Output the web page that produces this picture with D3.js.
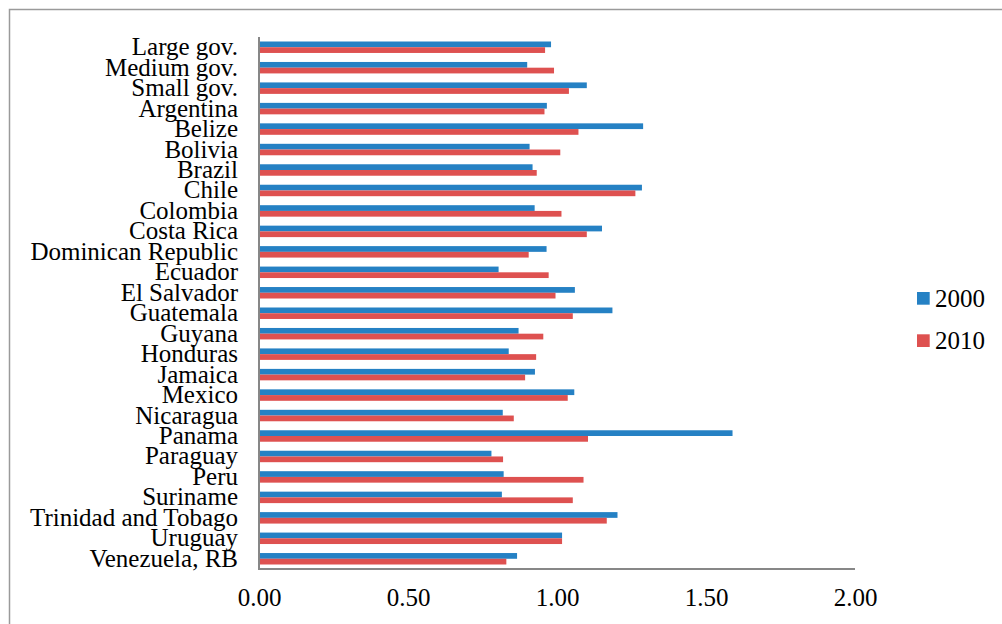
<!DOCTYPE html>
<html>
<head>
<meta charset="utf-8">
<script src="https://cdn.jsdelivr.net/npm/d3@7"></script>
<style>
  html, body { margin: 0; padding: 0; background: #fff; }
  svg { display: block; }
  svg text { font-family: "Liberation Serif", "Times New Roman", serif !important; fill: #000; }
</style>
</head>
<body>
<svg id="chart" width="1002" height="624"></svg>
<script>
const categories = ["Large gov.", "Medium gov.", "Small gov.", "Argentina", "Belize", "Bolivia", "Brazil", "Chile", "Colombia", "Costa Rica", "Dominican Republic", "Ecuador", "El Salvador", "Guatemala", "Guyana", "Honduras", "Jamaica", "Mexico", "Nicaragua", "Panama", "Paraguay", "Peru", "Suriname", "Trinidad and Tobago", "Uruguay", "Venezuela, RB"];
const seriesNames = ["2000", "2010"];
const values2000 = [0.98, 0.90, 1.10, 0.966, 1.289, 0.908, 0.918, 1.285, 0.925, 1.151, 0.965, 0.804, 1.06, 1.186, 0.871, 0.838, 0.926, 1.058, 0.818, 1.589, 0.78, 0.821, 0.815, 1.203, 1.017, 0.866];
const values2010 = [0.96, 0.99, 1.04, 0.958, 1.072, 1.011, 0.932, 1.263, 1.015, 1.10, 0.905, 0.972, 0.995, 1.053, 0.954, 0.93, 0.893, 1.036, 0.855, 1.104, 0.819, 1.089, 1.053, 1.167, 1.017, 0.83];
const xTicks = [0, 0.5, 1.0, 1.5, 2.0];
const colors = ["#2581C4", "#DE5150"];

const svg = d3.select("#chart");

// outer frame
svg.append("rect").attr("x", 9.5).attr("y", 9.5).attr("width", 1010).attr("height", 640)
  .attr("fill", "none").attr("stroke", "#9a9a9a").attr("stroke-width", 1.5);

const x = d3.scaleLinear().domain([0, 2]).range([259, 855]);
const y = d3.scaleBand().domain(categories).range([37, 569]).paddingInner(0.44).paddingOuter(0.22);
const ys = d3.scaleBand().domain(seriesNames).range([0, y.bandwidth()]);

const data = categories.map((c, i) => ({cat: c, vals: [values2000[i], values2010[i]]}));

const g = svg.append("g");
const groups = g.selectAll("g.cat").data(data).join("g")
  .attr("transform", d => `translate(0,${y(d.cat)})`);
groups.selectAll("rect").data(d => d.vals.map((v, k) => ({v, k}))).join("rect")
  .attr("x", x(0))
  .attr("y", d => ys(seriesNames[d.k]))
  .attr("width", d => x(d.v) - x(0))
  .attr("height", ys.bandwidth())
  .attr("fill", d => colors[d.k]);

// y axis
const yAxis = d3.axisLeft(y).tickSize(0).tickPadding(21);
const yg = svg.append("g").attr("transform", `translate(${x(0)},0)`).call(yAxis);
yg.attr("font-family", null).attr("font-size", null);
yg.select(".domain").remove();
yg.selectAll("text").style("font-size", "25px").attr("dy", "0.32em");
svg.append("line").attr("x1", x(0)).attr("x2", x(0)).attr("y1", 37).attr("y2", 570)
  .attr("stroke", "#878787").attr("stroke-width", 2);

// x axis
const xAxis = d3.axisBottom(x).tickValues(xTicks).tickSize(0).tickPadding(19).tickFormat(d3.format(".2f"));
const xg = svg.append("g").attr("transform", `translate(0,569)`).call(xAxis);
xg.attr("font-family", null).attr("font-size", null);
xg.select(".domain").remove();
xg.selectAll("text").style("font-size", "25px");
svg.append("line").attr("x1", x(0) - 1).attr("x2", x(2)).attr("y1", 569).attr("y2", 569)
  .attr("stroke", "#878787").attr("stroke-width", 2);

// legend
const leg = svg.append("g");
seriesNames.forEach((s, i) => {
  const yy = 292 + i * 42.3;
  leg.append("rect").attr("x", 917).attr("y", yy).attr("width", 12.7).attr("height", 12.7).attr("fill", colors[i]);
  leg.append("text").attr("x", 935).attr("y", yy + 14.5).style("font-size", "25px").text(s);
});
</script>
</body>
</html>
